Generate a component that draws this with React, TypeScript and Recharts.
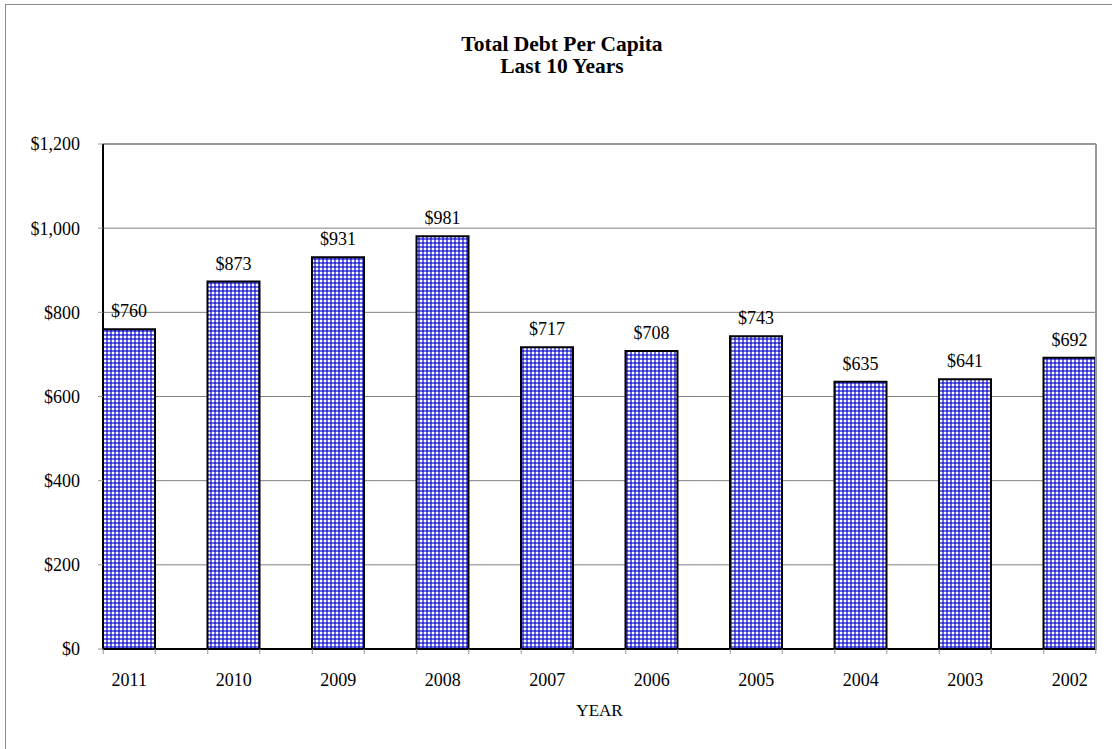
import React from 'react';
import {
  Bar,
  BarChart,
  CartesianGrid,
  LabelList,
  ReferenceLine,
  XAxis,
  YAxis,
} from 'recharts';

const years = ['2011', '2010', '2009', '2008', '2007', '2006', '2005', '2004', '2003', '2002'];
const debtPerCapita = [760, 873, 931, 981, 717, 708, 743, 635, 641, 692];
const yTicks = [0, 200, 400, 600, 800, 1000, 1200];

const data = years.map((year, i) => ({ year, debt: debtPerCapita[i] }));

const FONT = '"Liberation Serif", "Times New Roman", serif';
const BAR_W = 52;

const money = (v: number) => `$${v.toLocaleString('en-US')}`;

// year label under the bar, with small ticks on each bar edge
function YearTick(props: any) {
  const { x, y, payload } = props;
  const half = BAR_W / 2;
  return (
    <g>
      <line x1={x - half} x2={x - half} y1={y} y2={y + 5} stroke="#999" />
      <line x1={x + half} x2={x + half} y1={y} y2={y + 5} stroke="#999" />
      <text x={x} y={y + 37} textAnchor="middle" fontSize={18} fill="#000" fontFamily={FONT}>
        {payload.value}
      </text>
    </g>
  );
}

export default function App() {
  return (
    <div
      style={{
        position: 'absolute',
        left: 0,
        top: 0,
        width: 1112,
        height: 749,
        overflow: 'hidden',
        background: '#fff',
        fontFamily: FONT,
      }}
    >
      {/* chart area frame, runs off the right and bottom edges */}
      <div
        style={{
          position: 'absolute',
          left: 5,
          top: 4,
          width: 1300,
          height: 1000,
          borderLeft: '1px solid #8c8c8c',
          borderTop: '1px solid #8c8c8c',
        }}
      />

      <div
        style={{
          position: 'absolute',
          left: 0,
          top: 32.5,
          width: 1124,
          textAlign: 'center',
          fontWeight: 'bold',
          fontSize: 21.5,
          lineHeight: '22.5px',
          color: '#000',
        }}
      >
        <div>Total Debt Per Capita</div>
        <div>Last 10 Years</div>
      </div>

      <div style={{ position: 'absolute', left: 0, top: 0 }}>
        <BarChart
          width={1112}
          height={749}
          data={data}
          margin={{ top: 144, right: 15, bottom: 20, left: 23 }}
          barSize={BAR_W}
        >
          <defs>
            <pattern id="checker" width="4" height="4" patternUnits="userSpaceOnUse">
              <rect width="4" height="4" fill="#6b6be6" />
              <rect x="0" y="0" width="2" height="2" fill="#ffffff" />
              <rect x="2" y="2" width="2" height="2" fill="#2f2fcf" />
            </pattern>
          </defs>
          <CartesianGrid vertical={false} stroke="#808080" />
          <XAxis
            dataKey="year"
            padding={{ left: -26, right: -26 }}
            axisLine={{ stroke: '#000', strokeWidth: 2 }}
            tickLine={false}
            tickSize={0}
            tickMargin={0}
            height={80}
            interval={0}
            tick={<YearTick />}
            label={{
              value: 'YEAR',
              position: 'insideBottom',
              offset: 13,
              fontSize: 17,
              fill: '#000',
              fontFamily: FONT,
            }}
          />
          <YAxis
            width={80}
            domain={[0, 1200]}
            ticks={yTicks}
            interval={0}
            tickFormatter={money}
            axisLine={{ stroke: '#000', strokeWidth: 2 }}
            tickLine={{ stroke: '#999' }}
            tickSize={5}
            tickMargin={18}
            tick={{ fontSize: 18, fill: '#000', fontFamily: FONT }}
          />
          <YAxis
            yAxisId="right"
            orientation="right"
            width={1}
            domain={[0, 1200]}
            tick={false}
            tickLine={false}
            axisLine={{ stroke: '#999', strokeWidth: 2 }}
          />
          <ReferenceLine y={1200} stroke="#999" strokeWidth={2} />
          <Bar
            dataKey="debt"
            fill="url(#checker)"
            stroke="#000"
            strokeWidth={2}
            isAnimationActive={false}
          >
            <LabelList
              dataKey="debt"
              position="top"
              offset={12}
              formatter={(v: any) => money(Number(v))}
              style={{ fontSize: 18, fill: '#000', fontFamily: FONT }}
            />
          </Bar>
        </BarChart>
      </div>
    </div>
  );
}
